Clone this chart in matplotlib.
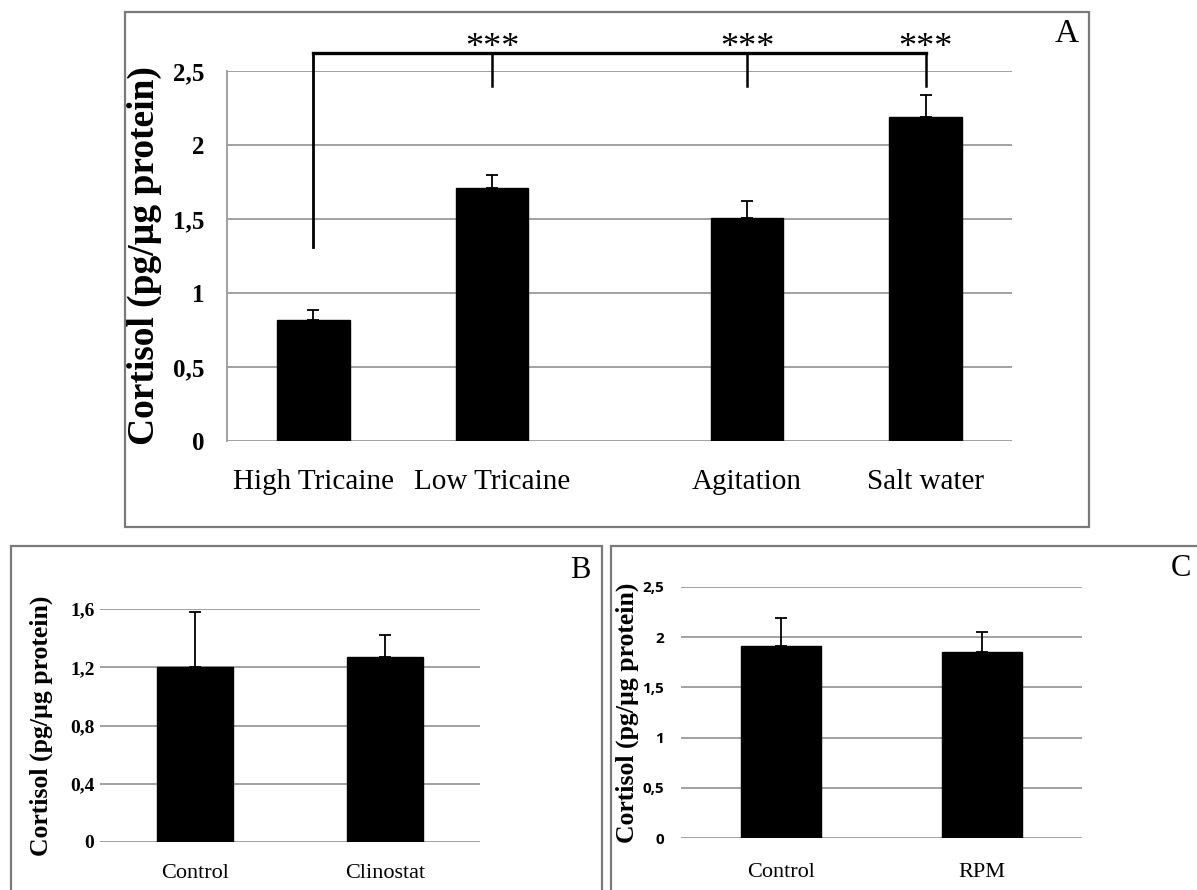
import matplotlib
matplotlib.use("Agg")
import matplotlib.pyplot as plt
from matplotlib.patches import Rectangle

# panel A data
cats_A = ["High Tricaine", "Low Tricaine", "Agitation", "Salt water"]
vals_A = [0.82, 1.71, 1.51, 2.19]
err_A = [0.065, 0.09, 0.11, 0.15]
ticks_A = [0, 0.5, 1, 1.5, 2, 2.5]
ticklabels_A = ["0", "0,5", "1", "1,5", "2", "2,5"]

# panel B data
cats_B = ["Control", "Clinostat"]
vals_B = [1.20, 1.27]
err_B = [0.38, 0.15]
ticks_B = [0, 0.4, 0.8, 1.2, 1.6]
ticklabels_B = ["0", "0,4", "0,8", "1,2", "1,6"]

# panel C data
cats_C = ["Control", "RPM"]
vals_C = [1.91, 1.85]
err_C = [0.28, 0.20]
ticks_C = [0, 0.5, 1, 1.5, 2, 2.5]
ticklabels_C = ["0", "0,5", "1", "1,5", "2", "2,5"]

# significance marks (bracket height, drop ends, star text)
bracket_top = 2.62
bracket_ref_end = 1.31
bracket_drop_end = 2.40
stars = "***"

serif = "Liberation Serif"
ylab = "Cortisol (pg/\u00b5g protein)"
W, H = 1197, 890

fig = plt.figure(figsize=(W / 100, H / 100), dpi=100)


def ax_at(left, top, right, bottom):
    return fig.add_axes([left / W, 1 - bottom / H, (right - left) / W, (bottom - top) / H])


def frame(x0, y0, x1, y1):
    fig.patches.append(Rectangle((x0 / W, 1 - y1 / H), (x1 - x0) / W, (y1 - y0) / H,
                                 transform=fig.transFigure, fill=False,
                                 edgecolor="#7a7a7a", linewidth=1.6))


def bar_panel(ax, pos, vals, errs, width, ticks, ticklabels, cats,
              tickfont, ticksize, ticklabpad, catsize, catpad):
    ax.set_axisbelow(True)
    ax.bar(pos, vals, width=width, color="black", edgecolor="black", zorder=2)
    ax.errorbar(pos, vals, yerr=[[0] * len(vals), errs], fmt="none",
                ecolor="black", elinewidth=1.3, capsize=4, capthick=1.3, zorder=3)
    ax.set_ylim(ticks[0], ticks[-1])
    ax.set_yticks(ticks)
    ax.set_yticklabels(ticklabels, fontfamily=tickfont, fontweight="bold", fontsize=ticksize)
    ax.set_xticks(pos)
    ax.set_xticklabels(cats, fontfamily=serif, fontsize=catsize)
    ax.tick_params(axis="y", length=0, pad=ticklabpad)
    ax.tick_params(axis="x", length=0, pad=catpad)
    ax.yaxis.grid(True, color="#9a9a9a", linewidth=1.3)
    ax.xaxis.grid(False)
    for s in ax.spines.values():
        s.set_visible(False)


# --- panel A ---
frame(125, 12, 1089, 527)
axA = ax_at(227, 71, 1012, 441)
posA = [-0.06, 0.85, 2.15, 3.06]
bar_panel(axA, posA, vals_A, err_A, 0.37, ticks_A, ticklabels_A, cats_A,
          serif, 18, 16, 21, 20)
axA.set_xlim(-0.5, 3.5)
axA.spines["left"].set_visible(True)
axA.spines["left"].set_color("#9a9a9a")
axA.spines["left"].set_linewidth(1.3)
axA.set_ylabel(ylab, fontfamily=serif, fontweight="bold", fontsize=27)
axA.yaxis.set_label_coords(-0.083, 0.5)

# bracket from the first group to the others
axA.plot([posA[0], posA[0]], [bracket_ref_end, bracket_top], color="black", lw=2, clip_on=False)
axA.plot([posA[0], posA[-1]], [bracket_top, bracket_top], color="black", lw=2.4, clip_on=False)
for p in posA[1:]:
    axA.plot([p, p], [bracket_top, bracket_drop_end], color="black", lw=1.8, clip_on=False)
    axA.text(p, bracket_top - 0.08, stars, ha="center", va="bottom", fontfamily=serif,
             fontsize=26, clip_on=False)
fig.text(1067 / W, 1 - 34 / H, "A", ha="center", va="center", fontfamily=serif, fontsize=24)

# --- panel B ---
frame(11, 546, 602, 900)
axB = ax_at(100, 609, 480, 842)
bar_panel(axB, [0, 1], vals_B, err_B, 0.405, ticks_B, ticklabels_B, cats_B,
          serif, 14, 4, 16, 16)
axB.set_xlim(-0.5, 1.5)
axB.set_ylabel(ylab, fontfamily=serif, fontweight="bold", fontsize=18.5)
axB.yaxis.set_label_coords(-0.124, 0.5)
fig.text(580 / W, 1 - 570 / H, "B", ha="center", va="center", fontfamily=serif, fontsize=22)

# --- panel C ---
frame(611, 546, 1210, 900)
axC = ax_at(681, 587, 1082, 838)
bar_panel(axC, [0, 1], vals_C, err_C, 0.40, ticks_C, ticklabels_C, cats_C,
          "Open Sans", 11, 12, 16, 18)
axC.set_xlim(-0.5, 1.5)
axC.set_ylabel(ylab, fontfamily=serif, fontweight="bold", fontsize=18.5)
axC.yaxis.set_label_coords(-0.105, 0.5)
fig.text(1181 / W, 1 - 569 / H, "C", ha="center", va="center", fontfamily=serif, fontsize=22)

fig.savefig("out.png", dpi=100, facecolor="white")
